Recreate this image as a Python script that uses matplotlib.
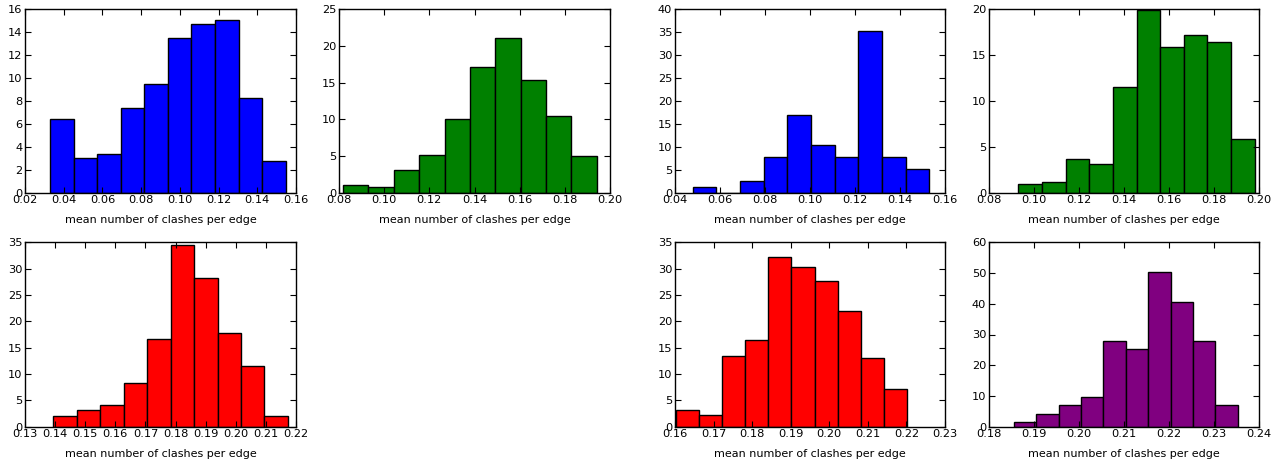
# -*- coding: utf-8 -*-

import numpy as np
from matplotlib import pyplot as plt
from matplotlib.ticker import MultipleLocator

# Гистограммы (нормированные): первая/последняя граница бинов и высоты
blue1_range = (0.0331, 0.1546)
blue1_heights = [6.47, 3.05, 3.37, 7.35, 9.52, 13.5, 14.75, 15.04, 8.27, 2.73]

green1_range = (0.0818, 0.1941)
green1_heights = [1.0, 0.82, 3.04, 5.17, 9.98, 17.1, 21.1, 15.3, 10.4, 5.04]

red1_range = (0.1394, 0.2173)
red1_heights = [2.03, 3.1, 4.18, 8.3, 16.7, 34.4, 28.15, 17.7, 11.48, 2.03]

blue2_range = (0.0479, 0.1530)
blue2_heights = [1.23, 0.0, 2.54, 7.84, 16.98, 10.38, 7.84, 35.27, 7.84, 5.15]

green2_range = (0.0931, 0.1981)
green2_heights = [0.94, 1.2, 3.63, 3.16, 11.54, 19.9, 15.93, 17.2, 16.44, 5.88]

red2_range = (0.1603, 0.2201)
red2_heights = [3.1, 2.22, 13.44, 16.55, 32.2, 30.4, 27.7, 21.9, 13.0, 7.1]

purple2_range = (0.1855, 0.2353)
purple2_heights = [1.41, 4.13, 7.07, 9.78, 28.04, 25.2, 50.3, 40.65, 28.04, 6.96]

xlabel = "mean number of clashes per edge"

W, H = 1285, 461


def px_rect(x0, x1, y0, y1):
    # перевод пикселей в доли фигуры
    return [x0 / W, 1 - y1 / H, (x1 - x0) / W, (y1 - y0) / H]


def draw_hist(ax, rng, heights, color, xlim, ylim, xstep, ystep):
    edges = np.linspace(rng[0], rng[1], len(heights) + 1)
    ax.bar(edges[:-1], heights, width=np.diff(edges), align='edge',
           color=color, edgecolor='black', linewidth=1.0)
    ax.set_xlim(*xlim)
    ax.set_ylim(*ylim)
    ax.xaxis.set_major_locator(MultipleLocator(xstep))
    ax.yaxis.set_major_locator(MultipleLocator(ystep))
    ax.tick_params(direction='in', top=True, right=True, length=4,
                   labelsize=8.2, pad=2, color='black')
    for s in ax.spines.values():
        s.set_linewidth(1.0)
    ax.set_xlabel(xlabel, fontsize=8, labelpad=7)


fig = plt.figure(figsize=(W / 100, H / 100), dpi=100)
fig.patch.set_facecolor('white')

top = (9.3, 192.7)
bot = (242.3, 426.7)

ax = fig.add_axes(px_rect(25, 296, *top))
draw_hist(ax, blue1_range, blue1_heights, '#0000ff', (0.02, 0.16), (0, 16), 0.02, 2)

ax = fig.add_axes(px_rect(339, 610, *top))
draw_hist(ax, green1_range, green1_heights, '#008000', (0.08, 0.20), (0, 25), 0.02, 5)

ax = fig.add_axes(px_rect(25, 296, *bot))
draw_hist(ax, red1_range, red1_heights, '#ff0000', (0.13, 0.22), (0, 35), 0.01, 5)

ax = fig.add_axes(px_rect(675, 945, *top))
draw_hist(ax, blue2_range, blue2_heights, '#0000ff', (0.04, 0.16), (0, 40), 0.02, 5)

ax = fig.add_axes(px_rect(989, 1259, *top))
draw_hist(ax, green2_range, green2_heights, '#008000', (0.08, 0.20), (0, 20), 0.02, 5)

ax = fig.add_axes(px_rect(675, 945, *bot))
draw_hist(ax, red2_range, red2_heights, '#ff0000', (0.16, 0.23), (0, 35), 0.01, 5)

ax = fig.add_axes(px_rect(989, 1259, *bot))
draw_hist(ax, purple2_range, purple2_heights, '#800080', (0.18, 0.24), (0, 60), 0.01, 10)

fig.savefig("out.png", dpi=100, facecolor='white')
